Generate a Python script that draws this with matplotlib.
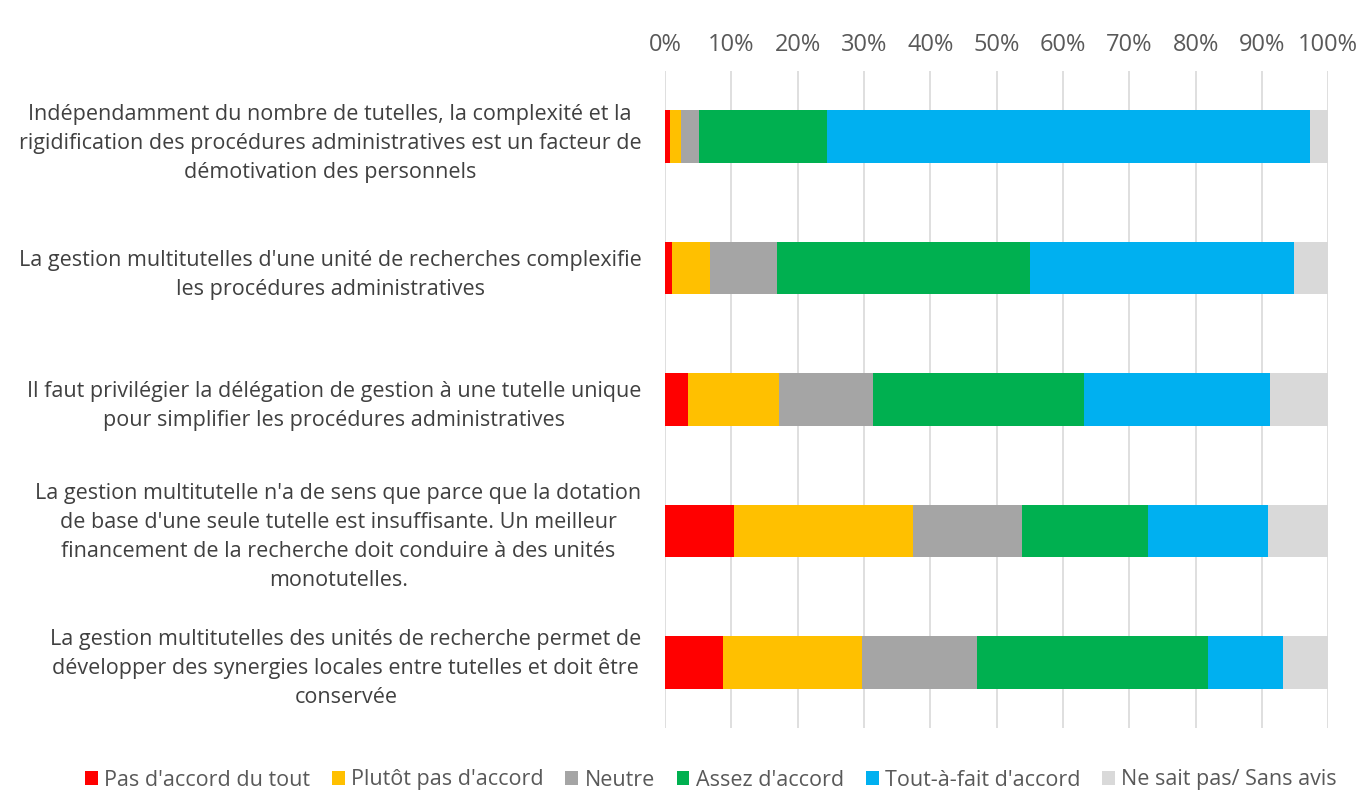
import matplotlib
matplotlib.use("Agg")
import matplotlib.pyplot as plt
import numpy as np

plt.rcParams['font.family'] = ['Open Sans', 'DejaVu Sans']

categories = [
    "Indépendamment du nombre de tutelles, la complexité et la\nrigidification des procédures administratives est un facteur de\ndémotivation des personnels",
    "La gestion multitutelles d'une unité de recherches complexifie\nles procédures administratives",
    "Il faut privilégier la délégation de gestion à une tutelle unique\npour simplifier les procédures administratives",
    "La gestion multitutelle n'a de sens que parce que la dotation\nde base d'une seule tutelle est insuffisante. Un meilleur\nfinancement de la recherche doit conduire à des unités\nmonotutelles.",
    "La gestion multitutelles des unités de recherche permet de\ndévelopper des synergies locales entre tutelles et doit être\nconservée",
]

series_names = ["Pas d'accord du tout", "Plutôt pas d'accord", "Neutre",
                "Assez d'accord", "Tout-à-fait d'accord", "Ne sait pas/ Sans avis"]

pas_accord = [0.7, 1.05, 3.5, 10.35, 8.75]
plutot_pas = [1.7, 5.75, 13.7, 27.0, 20.95]
neutre = [2.7, 10.1, 14.1, 16.5, 17.3]
assez = [19.3, 38.1, 31.8, 18.9, 34.9]
tout_a_fait = [72.8, 39.8, 28.1, 18.1, 11.3]
ne_sait_pas = [2.8, 5.2, 8.8, 9.2, 6.8]

tick_labels = ["0%", "10%", "20%", "30%", "40%", "50%", "60%", "70%", "80%", "90%", "100%"]

colors = ["#FF0000", "#FFC000", "#A5A5A5", "#00B050", "#00B0F0", "#D9D9D9"]

fig = plt.figure(figsize=(13.65, 7.91), dpi=100)
ax = fig.add_axes([665 / 1365, 1 - 728 / 791, (1328.3 - 665) / 1365, (728 - 71) / 791])

series = [pas_accord, plutot_pas, neutre, assez, tout_a_fait, ne_sait_pas]
y = np.arange(len(categories))
left = np.zeros(len(categories))
for name, vals, c in zip(series_names, series, colors):
    vals = np.array(vals)
    ax.barh(y, vals, left=left, height=0.40, color=c, label=name, zorder=3)
    left += vals

ax.set_xlim(0, 100)
ax.set_ylim(len(categories) - 0.5, -0.5)
ax.set_yticks(y)
ax.set_yticklabels(categories, multialignment='center', fontsize=15.5, color='#404040')
for lbl in ax.get_yticklabels():
    lbl.set_linespacing(1.5)
ax.tick_params(axis='y', length=0, pad=17)

ax.xaxis.tick_top()
ax.set_xticks(np.arange(0, 101, 10))
ax.set_xticklabels(tick_labels, fontsize=17, color='#595959')
ax.tick_params(axis='x', length=0, pad=10)

ax.grid(axis='x', color='#D9D9D9', linewidth=1.2, zorder=0)
for s in ax.spines.values():
    s.set_visible(False)

fig.legend(loc='center', bbox_to_anchor=(711 / 1365, 1 - 780 / 791), ncol=6,
           frameon=False, fontsize=15.5, handlelength=0.6, handleheight=0.6,
           handletextpad=0.3, columnspacing=1.0, labelcolor='#595959')

fig.savefig("out.png", dpi=100)
